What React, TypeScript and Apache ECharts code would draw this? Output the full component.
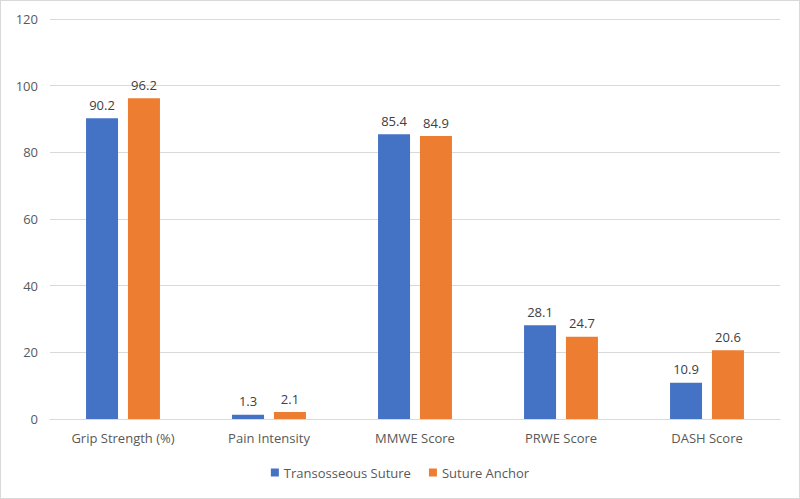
import React, { useEffect, useRef } from "react";
import * as echarts from "echarts";

const categories = ["Grip Strength (%)", "Pain Intensity", "MMWE Score", "PRWE Score", "DASH Score"];
const transosseous = [90.2, 1.3, 85.4, 28.1, 10.9];
const sutureAnchor = [96.2, 2.1, 84.9, 24.7, 20.6];
const seriesNames = ["Transosseous Suture", "Suture Anchor"];

export default function App() {
  const ref = useRef<HTMLDivElement>(null);
  useEffect(() => {
    const chart = echarts.init(ref.current!, null, { renderer: "svg" });
    const font = "'Open Sans', 'Noto Sans', sans-serif";
    const label = {
      show: true,
      position: "top" as const,
      distance: 7,
      color: "#404040",
      fontSize: 13,
      fontFamily: font,
    };
    chart.setOption({
      animation: false,
      backgroundColor: "#ffffff",
      textStyle: { fontFamily: font },
      legend: {
        bottom: 14,
        left: "center",
        itemWidth: 8,
        itemHeight: 8,
        itemGap: 18,
        icon: "rect",
        textStyle: { color: "#595959", fontSize: 13, fontFamily: font },
        data: seriesNames,
      },
      grid: { left: 49, right: 19, top: 18, bottom: 79 },
      xAxis: {
        type: "category",
        data: categories,
        axisLine: { lineStyle: { color: "#d9d9d9" } },
        axisTick: { show: false },
        axisLabel: { color: "#595959", fontSize: 13, fontFamily: font, margin: 12 },
      },
      yAxis: {
        type: "value",
        min: 0,
        max: 120,
        interval: 20,
        axisLine: { show: false },
        axisTick: { show: false },
        splitLine: { lineStyle: { color: "#d9d9d9" } },
        axisLabel: { color: "#595959", fontSize: 13, fontFamily: font, margin: 12 },
      },
      series: [
        {
          name: seriesNames[0],
          type: "bar",
          data: transosseous,
          barWidth: 32,
          barGap: "31%",
          itemStyle: { color: "#4472C4" },
          label,
        },
        {
          name: seriesNames[1],
          type: "bar",
          data: sutureAnchor,
          barWidth: 32,
          itemStyle: { color: "#ED7D31" },
          label,
        },
      ],
    });
    return () => chart.dispose();
  }, []);
  return (
    <div
      ref={ref}
      style={{
        position: "fixed",
        left: 0,
        top: 0,
        width: 800,
        height: 499,
        boxSizing: "border-box",
        border: "1px solid #d9d9d9",
        background: "#fff",
      }}
    />
  );
}
